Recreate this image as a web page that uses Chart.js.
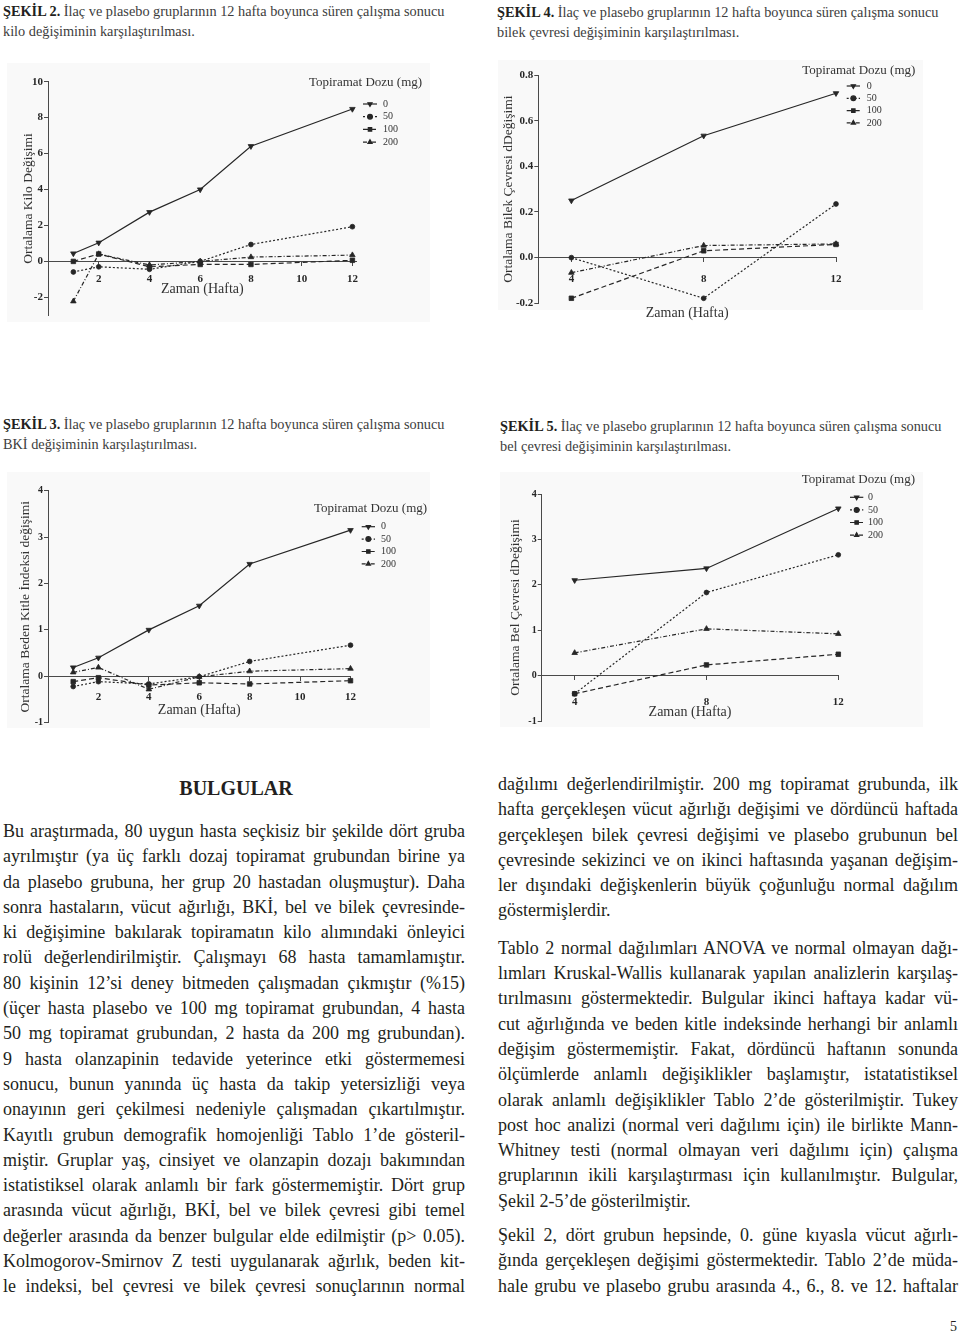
<!DOCTYPE html>
<html lang="tr">
<head>
<meta charset="utf-8">
<title>Şekil 2-5</title>
<script src="https://cdn.jsdelivr.net/npm/chart.js@4.4.1/dist/chart.umd.min.js"></script>
<style>
  html, body { margin: 0; padding: 0; background: #fff; }
  body {
    position: relative; width: 960px; height: 1338px; overflow: hidden;
    font-family: "Liberation Serif", "Times New Roman", serif; color: #231f20;
  }
  .cap { position: absolute; font-size: 14.3px; line-height: 19.5px; color: #3d3d3d; white-space: nowrap; }
  .cap b { color: #231f20; }
  .panel { position: absolute; background: #f9f9f9; }
  canvas { position: absolute; }
  .col { position: absolute; font-size: 18px; line-height: 25.3px; }
  .col div { text-align: justify; text-align-last: justify; height: 25.3px; }
  .col div.end { text-align-last: left; }
  .col div.gap { margin-top: 12px; }
  .col div.gap2 { margin-top: 9px; }
  .head { position: absolute; left: 0; width: 472px; top: 776px; text-align: center; font-size: 20px; font-weight: bold; line-height: 24px; }
  .pageno { position: absolute; right: 3px; top: 1319px; font-size: 14px; }
</style>
</head>
<body>

<div class="cap" style="left:3px; top:2px;"><b>ŞEKİL 2.</b> İlaç ve plasebo gruplarının 12 hafta boyunca süren çalışma sonucu<br>kilo değişiminin karşılaştırılması.</div>
<div class="cap" style="left:497px; top:3px;"><b>ŞEKİL 4.</b> İlaç ve plasebo gruplarının 12 hafta boyunca süren çalışma sonucu<br>bilek çevresi değişiminin karşılaştırılması.</div>
<div class="cap" style="left:3px; top:415px;"><b>ŞEKİL 3.</b> İlaç ve plasebo gruplarının 12 hafta boyunca süren çalışma sonucu<br>BKİ değişiminin karşılaştırılması.</div>
<div class="cap" style="left:500px; top:417px;"><b>ŞEKİL 5.</b> İlaç ve plasebo gruplarının 12 hafta boyunca süren çalışma sonucu<br>bel çevresi değişiminin karşılaştırılması.</div>

<div class="panel" style="left:7px; top:63px; width:423px; height:259px;"></div>
<div class="panel" style="left:498px; top:60px; width:425px; height:250px;"></div>
<div class="panel" style="left:7px; top:472px; width:423px; height:256px;"></div>
<div class="panel" style="left:500px; top:472px; width:423px; height:255px;"></div>

<canvas id="chartKilo" width="440" height="270" style="left:0; top:60px;"></canvas>
<canvas id="chartBilek" width="470" height="275" style="left:480px; top:55px;"></canvas>
<canvas id="chartBki" width="440" height="270" style="left:0; top:470px;"></canvas>
<canvas id="chartBel" width="470" height="270" style="left:480px; top:470px;"></canvas>

<div class="head">BULGULAR</div>

<div class="col" style="left:3px; top:819px; width:462px;">
  <div>Bu araştırmada, 80 uygun hasta seçkisiz bir şekilde dört gruba</div>
  <div>ayrılmıştır (ya üç farklı dozaj topiramat grubundan birine ya</div>
  <div>da plasebo grubuna, her grup 20 hastadan oluşmuştur). Daha</div>
  <div>sonra hastaların, vücut ağırlığı, BKİ, bel ve bilek çevresinde-</div>
  <div>ki değişimine bakılarak topiramatın kilo alımındaki önleyici</div>
  <div>rolü değerlendirilmiştir. Çalışmayı 68 hasta tamamlamıştır.</div>
  <div>80 kişinin 12’si deney bitmeden çalışmadan çıkmıştır (%15)</div>
  <div>(üçer hasta plasebo ve 100 mg topiramat grubundan, 4 hasta</div>
  <div>50 mg topiramat grubundan, 2 hasta da 200 mg grubundan).</div>
  <div>9 hasta olanzapinin tedavide yeterince etki göstermemesi</div>
  <div>sonucu, bunun yanında üç hasta da takip yetersizliği veya</div>
  <div>onayının geri çekilmesi nedeniyle çalışmadan çıkartılmıştır.</div>
  <div>Kayıtlı grubun demografik homojenliği Tablo 1’de gösteril-</div>
  <div>miştir. Gruplar yaş, cinsiyet ve olanzapin dozajı bakımından</div>
  <div>istatistiksel olarak anlamlı bir fark göstermemiştir. Dört grup</div>
  <div>arasında vücut ağırlığı, BKİ, bel ve bilek çevresi gibi temel</div>
  <div>değerler arasında da benzer bulgular elde edilmiştir (p&gt; 0.05).</div>
  <div>Kolmogorov-Smirnov Z testi uygulanarak ağırlık, beden kit-</div>
  <div>le indeksi, bel çevresi ve bilek çevresi sonuçlarının normal</div>
</div>

<div class="col" style="left:498px; top:772px; width:460px;">
  <div>dağılımı değerlendirilmiştir. 200 mg topiramat grubunda, ilk</div>
  <div>hafta gerçekleşen vücut ağırlığı değişimi ve dördüncü haftada</div>
  <div>gerçekleşen bilek çevresi değişimi ve plasebo grubunun bel</div>
  <div>çevresinde sekizinci ve on ikinci haftasında yaşanan değişim-</div>
  <div>ler dışındaki değişkenlerin büyük çoğunluğu normal dağılım</div>
  <div class="end">göstermişlerdir.</div>
  <div class="gap">Tablo 2 normal dağılımları ANOVA ve normal olmayan dağı-</div>
  <div>lımları Kruskal-Wallis kullanarak yapılan analizlerin karşılaş-</div>
  <div>tırılmasını göstermektedir. Bulgular ikinci haftaya kadar vü-</div>
  <div>cut ağırlığında ve beden kitle indeksinde herhangi bir anlamlı</div>
  <div>değişim göstermemiştir. Fakat, dördüncü haftanın sonunda</div>
  <div>ölçümlerde anlamlı değişiklikler başlamıştır, istatatistiksel</div>
  <div>olarak anlamlı değişiklikler Tablo 2’de gösterilmiştir. Tukey</div>
  <div>post hoc analizi (normal veri dağılımı için) ile birlikte Mann-</div>
  <div>Whitney testi (normal olmayan veri dağılımı için) çalışma</div>
  <div>gruplarının ikili karşılaştırması için kullanılmıştır. Bulgular,</div>
  <div class="end">Şekil 2-5’de gösterilmiştir.</div>
  <div class="gap2">Şekil 2, dört grubun hepsinde, 0. güne kıyasla vücut ağırlı-</div>
  <div>ğında gerçekleşen değişimi göstermektedir. Tablo 2’de müda-</div>
  <div>hale grubu ve plasebo grubu arasında 4., 6., 8. ve 12. haftalar</div>
</div>

<div class="pageno">5</div>

<script>
"use strict";

const DOSES = ["0", "50", "100", "200"];

// Şekil 2: kilo değişimi
const kiloWeeks = [1, 2, 4, 6, 8, 12];
const kilo0 = [0.44, 1.04, 2.74, 4.0, 6.41, 8.48];
const kilo50 = [-0.59, -0.3, -0.44, 0.0, 0.94, 1.93];
const kilo100 = [0.0, 0.41, -0.3, -0.17, -0.17, 0.06];
const kilo200 = [-2.22, 0.41, -0.2, 0.0, 0.24, 0.35];
const kiloXTicks = [2, 4, 6, 8, 10, 12];
const kiloYTicks = [-2, 0, 2, 4, 6, 8, 10];

// Şekil 4: bilek çevresi
const bilekWeeks = [4, 8, 12];
const bilek0 = [0.25, 0.534, 0.72];
const bilek50 = [0.0, -0.178, 0.235];
const bilek100 = [-0.178, 0.03, 0.058];
const bilek200 = [-0.066, 0.053, 0.06];
const bilekXTicks = [4, 8, 12];
const bilekYTicks = [-0.2, 0, 0.2, 0.4, 0.6, 0.8];

// Şekil 3: BKİ
const bkiWeeks = [1, 2, 4, 6, 8, 12];
const bki0 = [0.19, 0.4, 1.0, 1.52, 2.42, 3.15];
const bki50 = [-0.22, -0.115, -0.165, -0.01, 0.32, 0.67];
const bki100 = [-0.115, -0.03, -0.19, -0.14, -0.165, -0.095];
const bki200 = [0.086, 0.19, -0.28, -0.01, 0.11, 0.165];
const bkiXTicks = [2, 4, 6, 8, 10, 12];
const bkiYTicks = [-1, 0, 1, 2, 3, 4];

// Şekil 5: bel çevresi
const belWeeks = [4, 8, 12];
const bel0 = [2.1, 2.36, 3.68];
const bel50 = [-0.4, 1.83, 2.66];
const bel100 = [-0.4, 0.235, 0.47];
const bel200 = [0.5, 1.03, 0.92];
const belXTicks = [4, 8, 12];
const belYTicks = [-1, 0, 1, 2, 3, 4];

const INK = "#262626";
const AXIS = "#4a4a4a";
const SERIF = "'Liberation Serif', 'Times New Roman', serif";

const SERIES_STYLE = [
  { dash: [], pointStyle: "triangle", rotation: 180, radius: 3.2 },
  { dash: [2, 2], pointStyle: "circle", rotation: 0, radius: 2.4 },
  { dash: [5, 3], pointStyle: "rect", rotation: 0, radius: 3.2 },
  { dash: [4, 2, 1, 2], pointStyle: "triangle", rotation: 0, radius: 3.2 },
];

// legend with a line sample and marker, like the GraphPad output
const doseLegend = {
  id: "doseLegend",
  afterDatasetsDraw(chart, args, opts) {
    const ctx = chart.ctx;
    ctx.save();
    ctx.fillStyle = "#333";
    ctx.font = "13px " + SERIF;
    ctx.textAlign = "center";
    ctx.textBaseline = "middle";
    ctx.fillText(opts.title, opts.titleX, opts.titleY);

    ctx.font = "10px " + SERIF;
    ctx.textAlign = "left";
    chart.data.datasets.forEach((ds, i) => {
      const y = opts.rowY + i * opts.rowGap;
      ctx.strokeStyle = INK;
      ctx.lineWidth = 1.2;
      ctx.setLineDash(ds.borderDash);
      ctx.beginPath();
      ctx.moveTo(opts.sampleX, y);
      ctx.lineTo(opts.sampleX + opts.sampleW, y);
      ctx.stroke();
      ctx.setLineDash([]);
      ctx.fillStyle = INK;
      Chart.helpers.drawPoint(
        ctx,
        { pointStyle: ds.pointStyle, rotation: ds.pointRotation, radius: 2.4, borderWidth: 0.8 },
        opts.sampleX + opts.sampleW / 2,
        y,
      );
      ctx.fillStyle = "#333";
      ctx.fillText(ds.label, opts.labelX, y);
    });
    ctx.restore();
  },
};

function lineChart(id, cfg) {
  const datasets = DOSES.map((dose, i) => {
    const st = SERIES_STYLE[i];
    return {
      label: dose,
      data: cfg.weeks.map((w, j) => ({ x: w, y: cfg.series[i][j] })),
      borderColor: INK,
      backgroundColor: INK,
      pointBackgroundColor: INK,
      pointBorderColor: INK,
      borderWidth: 1.2,
      borderDash: st.dash,
      pointStyle: st.pointStyle,
      pointRotation: st.rotation,
      pointRadius: st.radius,
      pointBorderWidth: 0.8,
      tension: 0,
      clip: false,
    };
  });

  const tickFont = (size) => ({ family: SERIF, size: size, weight: "bold" });

  return new Chart(document.getElementById(id), {
    type: "line",
    data: { datasets },
    plugins: [doseLegend],
    options: {
      responsive: false,
      animation: false,
      layout: { padding: cfg.padding },
      plugins: {
        legend: { display: false },
        tooltip: { enabled: false },
        doseLegend: cfg.legend,
      },
      scales: {
        x: {
          type: "linear",
          min: cfg.xMin,
          max: cfg.xMax,
          position: { y: 0 },
          afterBuildTicks: (s) => {
            s.ticks = cfg.xTicks.map((v) => ({ value: v }));
          },
          grid: { drawOnChartArea: false, drawTicks: true, tickLength: 4, color: AXIS },
          border: { color: AXIS, width: 1 },
          ticks: { padding: cfg.xTickPad, color: INK, font: tickFont(11), maxRotation: 0 },
          title: {
            display: true,
            text: "Zaman (Hafta)",
            color: "#333",
            font: { family: SERIF, size: 14, lineHeight: 1 },
            padding: { top: cfg.xTitlePad, bottom: 0 },
          },
        },
        y: {
          type: "linear",
          position: "left",
          min: cfg.yMin,
          max: cfg.yMax,
          afterBuildTicks: (s) => {
            s.ticks = cfg.yTicks.map((v) => ({ value: v }));
          },
          afterFit: (s) => {
            s.width = cfg.yAxisWidth;
          },
          grid: { drawOnChartArea: false, drawTicks: true, tickLength: 4, color: AXIS },
          border: { color: AXIS, width: 1 },
          ticks: {
            padding: 1,
            color: INK,
            font: tickFont(cfg.yTickSize),
            callback: (v) => Number(v).toFixed(cfg.yDecimals),
          },
          title: {
            display: true,
            text: cfg.yTitle,
            color: "#333",
            font: { family: SERIF, size: 13.5, lineHeight: 1 },
            padding: { top: cfg.yTitlePad, bottom: 0 },
          },
        },
      },
    },
  });
}

lineChart("chartKilo", {
  weeks: kiloWeeks,
  series: [kilo0, kilo50, kilo100, kilo200],
  xMin: 0, xMax: 12.17, xTicks: kiloXTicks,
  yMin: -3, yMax: 10, yTicks: kiloYTicks, yDecimals: 0,
  yTitle: "Ortalama Kilo Değişimi",
  padding: { top: 21.7, right: 83.3, bottom: 14.7, left: 0 },
  yAxisWidth: 48, yTitlePad: 21.5, yTickSize: 11,
  xTickPad: 7, xTitlePad: -10.5,
  legend: { title: "Topiramat Dozu (mg)", titleX: 365.5, titleY: 23, sampleX: 363, sampleW: 14, labelX: 383, rowY: 44, rowGap: 12.7 },
});

lineChart("chartBilek", {
  weeks: bilekWeeks,
  series: [bilek0, bilek50, bilek100, bilek200],
  xMin: 3, xMax: 12, xTicks: bilekXTicks,
  yMin: -0.2, yMax: 0.8, yTicks: bilekYTicks, yDecimals: 1,
  yTitle: "Ortalama Bilek Çevresi dDeğişimi",
  padding: { top: 20, right: 114, bottom: 26.7, left: 0 },
  yAxisWidth: 58.3, yTitlePad: 21.3, yTickSize: 11,
  xTickPad: 11, xTitlePad: 9.1,
  legend: { title: "Topiramat Dozu (mg)", titleX: 378.8, titleY: 15.7, sampleX: 366.7, sampleW: 13.3, labelX: 386.7, rowY: 31, rowGap: 12.3 },
});

lineChart("chartBki", {
  weeks: bkiWeeks,
  series: [bki0, bki50, bki100, bki200],
  xMin: 0, xMax: 12, xTicks: bkiXTicks,
  yMin: -1, yMax: 4, yTicks: bkiYTicks, yDecimals: 0,
  yTitle: "Ortalama Beden Kitle İndeksi değişimi",
  padding: { top: 20.7, right: 89.5, bottom: 17.3, left: 0 },
  yAxisWidth: 48, yTitlePad: 18.3, yTickSize: 10,
  xTickPad: 9.8, xTitlePad: -10,
  legend: { title: "Topiramat Dozu (mg)", titleX: 370.5, titleY: 39, sampleX: 361.7, sampleW: 13.3, labelX: 381, rowY: 56.7, rowGap: 12.4 },
});

lineChart("chartBel", {
  weeks: belWeeks,
  series: [bel0, bel50, bel100, bel200],
  xMin: 3, xMax: 12, xTicks: belXTicks,
  yMin: -1, yMax: 4, yTicks: belYTicks, yDecimals: 0,
  yTitle: "Ortalama Bel Çevresi dDeğişimi",
  padding: { top: 24, right: 111.7, bottom: 19, left: 0 },
  yAxisWidth: 61.7, yTitlePad: 28.3, yTickSize: 10,
  xTickPad: 16, xTitlePad: -19.5,
  legend: { title: "Topiramat Dozu (mg)", titleX: 378.4, titleY: 9.3, sampleX: 370, sampleW: 13.3, labelX: 388, rowY: 27.3, rowGap: 12.6 },
});

// squeeze any body line that would wrap, so the line breaks stay as printed
document.querySelectorAll(".col div").forEach((line) => {
  let spacing = 0;
  while (line.scrollHeight > 30 && spacing > -1.5) {
    spacing -= 0.1;
    line.style.letterSpacing = spacing.toFixed(1) + "px";
  }
});
</script>
</body>
</html>
